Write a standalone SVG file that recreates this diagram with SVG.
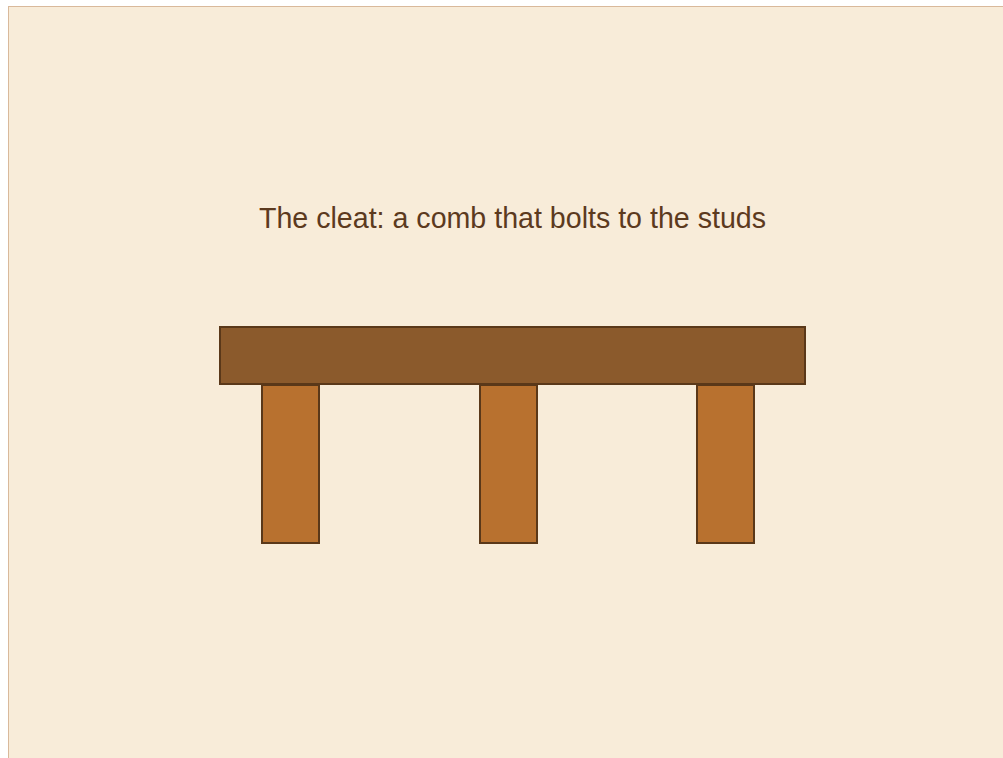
<svg xmlns="http://www.w3.org/2000/svg" width="1003" height="758" viewBox="0 0 1003 758">
<style>
.bar{fill:#8b5a2c;stroke:#5a3819;stroke-width:2}
.stud{fill:#b8712f;stroke:#5a3819;stroke-width:2}
.title{font-family:"Liberation Sans",Arial,sans-serif;font-size:29px;fill:#5c3a1e;text-anchor:middle}
</style>
<rect x="0" y="0" width="1003" height="758" fill="#ffffff"/>
<rect x="8.5" y="6.5" width="1000" height="760" fill="#f8ecd9" stroke="#d9b99b" stroke-width="1"/>
<text class="title" x="512.5" y="228" textLength="507" lengthAdjust="spacingAndGlyphs">The cleat: a comb that bolts to the studs</text>
<g id="cleat"><rect class="bar" x="220" y="327" width="585" height="57"/></g>
<g id="stud1"><rect class="stud" x="262" y="385" width="57" height="158"/></g>
<g id="stud2"><rect class="stud" x="480" y="385" width="57" height="158"/></g>
<g id="stud3"><rect class="stud" x="697" y="385" width="57" height="158"/></g>
<g id="connectors"/>
</svg>
